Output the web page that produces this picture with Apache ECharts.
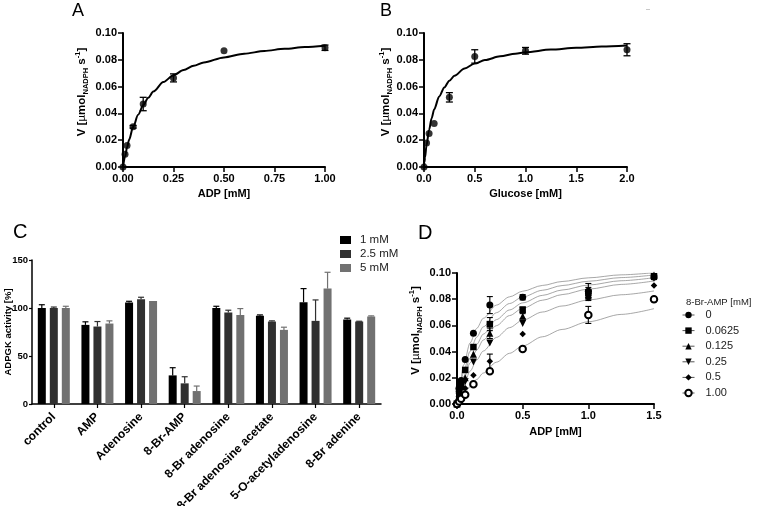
<!DOCTYPE html>
<html><head><meta charset="utf-8">
<script src="https://cdn.jsdelivr.net/npm/echarts@6/dist/echarts.min.js"></script>
<style>html,body{margin:0;padding:0;background:#fff}#c{width:757px;height:506px}</style>
</head><body><div id="c"></div>
<script>
// ---------- Panel A: ADP ----------
const adpA = [0, 0.01, 0.02, 0.05, 0.1, 0.25, 0.5, 1.0];
const vA = [0, 0.0095, 0.016, 0.030, 0.047, 0.0665, 0.0867, 0.089];
const errA = [0, 0, 0, 0.001, 0.005, 0.003, 0, 0.002];
const fitXA = [0, 0.01, 0.02, 0.03, 0.05, 0.075, 0.1, 0.125, 0.15, 0.2, 0.25, 0.3, 0.35, 0.4, 0.5, 0.6, 0.7, 0.8, 0.9, 1.0];
const fitVA = [0, 0.0078, 0.0145, 0.0203, 0.0298, 0.0390, 0.0461, 0.0517, 0.0563, 0.0634, 0.0685, 0.0724, 0.0755, 0.0780, 0.0818, 0.0845, 0.0866, 0.0882, 0.0895, 0.0905];

// ---------- Panel B: Glucose ----------
const glcB = [0, 0.025, 0.05, 0.1, 0.25, 0.5, 1.0, 2.0];
const vB = [0, 0.018, 0.025, 0.0325, 0.052, 0.0825, 0.0867, 0.0875];
const errB = [0, 0, 0, 0, 0.0035, 0.005, 0.0025, 0.0045];
const fitXB = [0, 0.005, 0.01, 0.025, 0.05, 0.075, 0.1, 0.15, 0.2, 0.25, 0.3, 0.4, 0.5, 0.6, 0.75, 0.9, 1.0, 1.25, 1.5, 1.75, 2.0];
const fitVB = [0, 0.0037, 0.0072, 0.0162, 0.0277, 0.0363, 0.0430, 0.0527, 0.0594, 0.0644, 0.0681, 0.0735, 0.0772, 0.0798, 0.0826, 0.0846, 0.0857, 0.0876, 0.0889, 0.0899, 0.0907];

// ---------- Panel C: bar chart ----------
const compounds = ['control', 'AMP', 'Adenosine', '8-Br-AMP', '8-Br adenosine', '8-Br adenosine acetate', '5-O-acetyladenosine', '8-Br adenine'];
const concNamesC = ['1 mM', '2.5 mM', '5 mM'];
const act1mM  = [100, 82.4, 105.6, 29.8, 100, 91.8, 106, 88];
const act25mM = [100, 80.7, 109.1, 21.5, 95.3, 85.9, 86.6, 85.9];
const act5mM  = [100, 83.8, 107.4, 13.5, 92.8, 77.2, 120.2, 91.1];
const err1mM  = [3.4, 3.2, 1.4, 8, 1.8, 1, 14.2, 1.4];
const err25mM = [1, 5.2, 2.1, 6.9, 2.4, 0.7, 21.8, 0.3];
const err5mM  = [1.8, 2.8, 0, 5.2, 6.6, 2.8, 17, 0.7];

// ---------- Panel D: 8-Br-AMP inhibition ----------
const adpD = [0, 0.015625, 0.03125, 0.0625, 0.125, 0.25, 0.5, 1.0, 1.5];
const inhNames = ['0', '0.0625', '0.125', '0.25', '0.5', '1.00'];
const vD0 = [0, 0.012, 0.018, 0.034, 0.054, 0.0755, 0.0815, 0.086, 0.097];
const vD1 = [0, 0.010, 0.016, 0.026, 0.0435, 0.061, 0.072, 0.085, 0.0975];
const vD2 = [0, 0.008, 0.013, 0.020, 0.038, 0.054, 0.067, 0.084, 0.0985];
const vD3 = [0, 0.007, 0.011, 0.017, 0.032, 0.0466, 0.0615, 0.082, 0.096];
const vD4 = [0, 0.005, 0.008, 0.012, 0.022, 0.0326, 0.0534, 0.081, 0.0905];
const vD5 = [0, 0.002, 0.004, 0.007, 0.015, 0.025, 0.042, 0.068, 0.080];
const eD0 = [0, 0.005, 0, 0, 0, 0.0065, 0.002, 0.006, 0.002];
const eD1 = [0, 0, 0, 0, 0, 0.005, 0.002, 0.004, 0.001];
const eD2 = [0, 0, 0, 0, 0, 0.004, 0.002, 0.003, 0.001];
const eD3 = [0, 0, 0, 0, 0, 0, 0, 0, 0];
const eD4 = [0, 0, 0, 0, 0, 0.0055, 0, 0.002, 0];
const eD5 = [0, 0, 0, 0, 0, 0, 0, 0.0065, 0.002];
const fitXD = [0, 0.02, 0.05, 0.1, 0.15, 0.2, 0.3, 0.4, 0.5, 0.65, 0.8, 1.0, 1.25, 1.5];
const fitD0 = [0, 0.0142, 0.0297, 0.0467, 0.0577, 0.0654, 0.0755, 0.0818, 0.0861, 0.0905, 0.0935, 0.0963, 0.0986, 0.1002];
const fitD1 = [0, 0.0114, 0.0246, 0.0403, 0.0510, 0.0589, 0.0697, 0.0767, 0.0817, 0.0868, 0.0904, 0.0937, 0.0965, 0.0985];
const fitD2 = [0, 0.0095, 0.0209, 0.0352, 0.0455, 0.0533, 0.0644, 0.0718, 0.0772, 0.0829, 0.0870, 0.0908, 0.0941, 0.0964];
const fitD3 = [0, 0.0081, 0.0183, 0.0314, 0.0412, 0.0488, 0.0598, 0.0675, 0.0731, 0.0792, 0.0835, 0.0877, 0.0913, 0.0939];
const fitD4 = [0, 0.0062, 0.0142, 0.0251, 0.0336, 0.0404, 0.0508, 0.0583, 0.0640, 0.0702, 0.0748, 0.0794, 0.0834, 0.0863];
const fitD5 = [0, 0.0029, 0.0071, 0.0133, 0.0187, 0.0236, 0.0319, 0.0387, 0.0443, 0.0513, 0.0569, 0.0628, 0.0684, 0.0728];

// ---------- build ----------
const FONT = 'Liberation Sans, Arial, Helvetica, sans-serif';
const BAR_W = 8, BAR_STEP = 12;
const barColors = ['#000000', '#303030', '#717171'];
const TICK_FS = 11;

function zip(xs, ys) { return xs.map((x, i) => [x, ys[i]]); }
function zip3(xs, ys, es) { return xs.map((x, i) => [x, ys[i], es[i]]); }

function numLabel(dec, margin) {
  return { color: '#000', fontFamily: FONT, fontWeight: 'bold', fontSize: TICK_FS, margin: margin,
    showMinLabel: true, showMaxLabel: true, hideOverlap: false,
    formatter: v => dec === null ? String(Math.round(v)) : v.toFixed(dec) };
}
function valueAxis(gi, min, max, interval, dec, extra) {
  return Object.assign({
    type: 'value', gridIndex: gi, min: min, max: max, interval: interval,
    nameMoveOverlap: false,
    axisLine: { show: true, onZero: false, lineStyle: { color: '#000', width: 2 } },
    axisTick: { show: true, length: 5, lineStyle: { color: '#000', width: 1.5 } },
    axisLabel: numLabel(dec, 6),
    splitLine: { show: false }
  }, extra || {});
}

const vRich = {
  gap: { width: 16, fontSize: 11.5, lineHeight: 16 },
  a: { fontFamily: FONT, fontWeight: 'bold', fontSize: 11.5, lineHeight: 16, color: '#000' },
  mu: { fontFamily: FONT, fontSize: 11.5, lineHeight: 16, color: '#000' },
  sub: { fontFamily: FONT, fontWeight: 'bold', fontSize: 7.5, lineHeight: 7, verticalAlign: 'bottom', color: '#000' },
  sup: { fontFamily: FONT, fontWeight: 'bold', fontSize: 7.5, lineHeight: 7, verticalAlign: 'top', color: '#000' }
};
const vName = '{gap| }{a|V [}{mu|µ}{a|mol}{sub|NADPH}{a| s}{sup|-1}{a|]}';
function yNameOpts(gap) {
  return { name: vName, nameLocation: 'middle', nameRotate: 90, nameGap: gap,
    nameTextStyle: { rich: vRich } };
}
function xNameOpts(name, gap, dec) {
  return { name: name, nameLocation: 'middle', nameGap: gap,
    nameTextStyle: { fontFamily: FONT, fontWeight: 'bold', fontSize: 11, color: '#000' },
    axisLabel: numLabel(dec, 6) };
}

function errRender(cap, color, lw) {
  return function (params, api) {
    const x = api.value(0), y = api.value(1), e = api.value(2);
    if (!e) return null;
    const t = api.coord([x, y + e]), b = api.coord([x, y - e]);
    const st = { stroke: color, lineWidth: lw };
    return { type: 'group', children: [
      { type: 'line', shape: { x1: t[0], y1: t[1], x2: b[0], y2: b[1] }, style: st },
      { type: 'line', shape: { x1: t[0] - cap, y1: t[1], x2: t[0] + cap, y2: t[1] }, style: st },
      { type: 'line', shape: { x1: b[0] - cap, y1: b[1], x2: b[0] + cap, y2: b[1] }, style: st }
    ] };
  };
}

const series = [];
// A
series.push({ type: 'line', xAxisIndex: 0, yAxisIndex: 0, data: zip(fitXA, fitVA), smooth: 0.3, smoothMonotone: 'x',
  symbol: 'none', lineStyle: { color: '#000', width: 2 }, z: 2, silent: true });
series.push({ type: 'custom', xAxisIndex: 0, yAxisIndex: 0, data: zip3(adpA, vA, errA), renderItem: errRender(3.5, '#000', 1.3), z: 3 });
series.push({ type: 'scatter', xAxisIndex: 0, yAxisIndex: 0, data: zip(adpA, vA), symbol: 'circle', symbolSize: 7,
  itemStyle: { color: '#000' }, z: 4 });
// B
series.push({ type: 'line', xAxisIndex: 1, yAxisIndex: 1, data: zip(fitXB, fitVB), smooth: 0.3, smoothMonotone: 'x',
  symbol: 'none', lineStyle: { color: '#000', width: 2 }, z: 2, silent: true });
series.push({ type: 'custom', xAxisIndex: 1, yAxisIndex: 1, data: zip3(glcB, vB, errB), renderItem: errRender(3.5, '#000', 1.3), z: 3 });
series.push({ type: 'scatter', xAxisIndex: 1, yAxisIndex: 1, data: zip(glcB, vB), symbol: 'circle', symbolSize: 7,
  itemStyle: { color: '#000' }, z: 4 });
// C
const actC = [act1mM, act25mM, act5mM];
const errC = [err1mM, err25mM, err5mM];
actC.forEach((arr, k) => {
  series.push({ type: 'bar', name: concNamesC[k], xAxisIndex: 2, yAxisIndex: 2, data: arr,
    barWidth: BAR_W, barGap: '50%', itemStyle: { color: barColors[k] }, z: 2 });
});
const errCData = [];
actC.forEach((arr, k) => arr.forEach((v, i) => errCData.push([i, v, errC[k][i], k])));
series.push({ type: 'custom', xAxisIndex: 2, yAxisIndex: 2, data: errCData, z: 3,
  renderItem: function (params, api) {
    const i = api.value(0), v = api.value(1), e = api.value(2), k = api.value(3);
    if (!e) return null;
    const base = api.coord([i, v]), top = api.coord([i, v + e]);
    const x = base[0] + (k - 1) * BAR_STEP;
    const st = { stroke: barColors[k], lineWidth: 1.2 };
    return { type: 'group', children: [
      { type: 'line', shape: { x1: x, y1: base[1], x2: x, y2: top[1] }, style: st },
      { type: 'line', shape: { x1: x - 3, y1: top[1], x2: x + 3, y2: top[1] }, style: st }
    ] };
  } });
// D curves
[fitD0, fitD1, fitD2, fitD3, fitD4, fitD5].forEach((f, k) => {
  series.push({ type: 'line', name: 'fit' + k, xAxisIndex: 3, yAxisIndex: 3, data: zip(fitXD, f), smooth: 0.3, smoothMonotone: 'x',
    symbol: 'none', lineStyle: { color: '#909090', width: 0.8 }, z: 2, silent: true });
});
// D error bars
const vD = [vD0, vD1, vD2, vD3, vD4, vD5];
const eD = [eD0, eD1, eD2, eD3, eD4, eD5];
const errDData = [];
vD.forEach((arr, k) => arr.forEach((v, i) => errDData.push([adpD[i], v, eD[k][i]])));
series.push({ type: 'custom', xAxisIndex: 3, yAxisIndex: 3, data: errDData, renderItem: errRender(3, '#000', 1.1), z: 3 });
// D points
const symD = ['circle', 'rect', 'triangle', 'triangle', 'diamond', 'emptyCircle'];
const symSizeD = [7, 6.5, 7, 7, 6.5, 6.5];
const symRotD = [0, 0, 0, 180, 0, 0];
vD.forEach((arr, k) => {
  series.push({ type: 'line', name: inhNames[k], xAxisIndex: 3, yAxisIndex: 3, data: zip(adpD, arr),
    symbol: symD[k], symbolSize: symSizeD[k], symbolRotate: symRotD[k], showSymbol: true, showAllSymbol: true,
    lineStyle: { opacity: 0, width: 1 }, itemStyle: { color: '#000', borderColor: '#000', borderWidth: k === 5 ? 1.2 : 0 },
    z: 4 });
});

const option = {
  animation: false,
  backgroundColor: '#fff',
  grid: [
    { left: 123, top: 33, width: 202, height: 134, outerBoundsMode: 'none' },
    { left: 424, top: 33, width: 203, height: 134, outerBoundsMode: 'none' },
    { left: 32, top: 260, width: 349, height: 144, outerBoundsMode: 'none' },
    { left: 457, top: 273, width: 197, height: 131, outerBoundsMode: 'none' }
  ],
  xAxis: [
    valueAxis(0, 0, 1, 0.25, 2, xNameOpts('ADP [mM]', 21, 2)),
    valueAxis(1, 0, 2, 0.5, 1, xNameOpts('Glucose [mM]', 21, 1)),
    { type: 'category', gridIndex: 2, data: compounds,
      axisLine: { show: true, lineStyle: { color: '#000', width: 1.5 } },
      axisTick: { show: true, alignWithLabel: true, length: 4, lineStyle: { color: '#000', width: 1.2 } },
      axisLabel: { interval: 0, rotate: 45, margin: 11, color: '#000', fontFamily: FONT, fontWeight: 'bold', fontSize: 12 },
      splitLine: { show: false } },
    valueAxis(3, 0, 1.5, 0.5, 1, xNameOpts('ADP [mM]', 22, 1))
  ],
  yAxis: [
    valueAxis(0, 0, 0.1, 0.02, 2, yNameOpts(33)),
    valueAxis(1, 0, 0.1, 0.02, 2, yNameOpts(30)),
    { type: 'value', gridIndex: 2, min: 0, max: 150, interval: 50,
      axisLine: { show: true, onZero: false, lineStyle: { color: '#000', width: 1.5 } },
      axisTick: { show: true, length: 3, lineStyle: { color: '#000', width: 1.2 } },
      axisLabel: { color: '#000', fontFamily: FONT, fontWeight: 'bold', fontSize: 9.5, margin: 4,
        showMinLabel: true, showMaxLabel: true, hideOverlap: false, formatter: v => String(Math.round(v)) },
      splitLine: { show: false } },
    valueAxis(3, 0, 0.1, 0.02, 2, yNameOpts(33))
  ],
  legend: [
    { data: concNamesC, orient: 'vertical', left: 340, top: 234, padding: 0, itemWidth: 11, itemHeight: 8, itemGap: 2, icon: 'rect',
      textStyle: { fontFamily: FONT, fontSize: 11.5, color: '#222', lineHeight: 12, padding: [0, 0, 0, 4] }, selectedMode: false },
    { data: inhNames, orient: 'vertical', left: 682, top: 309, padding: 0, itemWidth: 12, itemHeight: 8, itemGap: 3.6,
      lineStyle: { color: '#555', width: 1, opacity: 1, type: 'solid' },
      textStyle: { fontFamily: FONT, fontSize: 11, color: '#222', lineHeight: 12, padding: [0, 0, 0, 6] }, selectedMode: false }
  ],
  graphic: [
    { type: 'text', left: 72, top: 2, style: { text: 'A', fontFamily: FONT, fontSize: 18, fill: '#000' } },
    { type: 'text', left: 380, top: 2, style: { text: 'B', fontFamily: FONT, fontSize: 18, fill: '#000' } },
    { type: 'text', left: 13, top: 222, style: { text: 'C', fontFamily: FONT, fontSize: 20, fill: '#000' } },
    { type: 'text', left: 418, top: 223, style: { text: 'D', fontFamily: FONT, fontSize: 20, fill: '#000' } },
    { type: 'text', left: 686, top: 297, style: { text: '8-Br-AMP [mM]', fontFamily: FONT, fontSize: 9.5, fill: '#222' } },
    { type: 'text', x: 8.5, y: 332, rotation: Math.PI / 2, z: 1,
      style: { text: 'ADPGK activity [%]', fontFamily: FONT, fontWeight: 'bold', fontSize: 9.5, fill: '#000',
        align: 'center', verticalAlign: 'middle', textAlign: 'center', textVerticalAlign: 'middle' } },
    { type: 'rect', shape: { x: 646, y: 9, width: 4, height: 1 }, style: { fill: '#c8c8c8' } }
  ],
  series: series
};
const chart = echarts.init(document.getElementById('c'), null, { renderer: 'canvas' });
chart.setOption(option);
</script></body></html>
